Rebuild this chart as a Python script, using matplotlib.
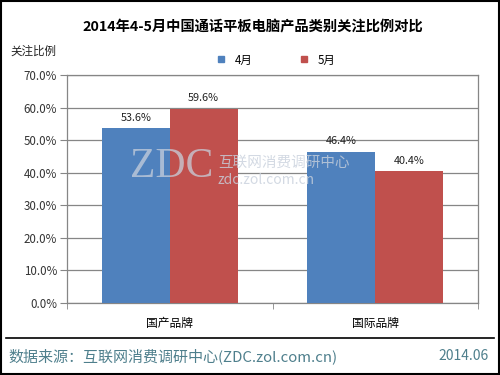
import matplotlib
matplotlib.use("Agg")
import matplotlib.pyplot as plt
import numpy as np
from matplotlib.lines import Line2D

plt.rcParams['font.family'] = ['Noto Sans CJK SC', 'DejaVu Sans']

# ── Data ──────────────────────────────────────────────────────────────────────
categories = ["国产品牌", "国际品牌"]
series_names = ["4月", "5月"]
april = [53.6, 46.4]
may = [59.6, 40.4]
yticks = [0, 10, 20, 30, 40, 50, 60, 70]

BLUE = "#4F81BD"
RED = "#C0504D"
GRID = "#868686"
FOOT = "#4E7F8C"

fig = plt.figure(figsize=(5, 3.75), dpi=100)
fig.patch.set_facecolor("white")
ax = fig.add_axes([0.134, 0.192, 0.822, 0.608])

x = np.arange(len(categories))
w = 0.33
b1 = ax.bar(x - w / 2, april, width=w, color=BLUE, label=series_names[0], zorder=3)
b2 = ax.bar(x + w / 2, may, width=w, color=RED, label=series_names[1], zorder=3)

for bars, vals in ((b1, april), (b2, may)):
    for bar, v in zip(bars, vals):
        ax.annotate(f"{v:.1f}%", (bar.get_x() + bar.get_width() / 2, v),
                    xytext=(0, 4), textcoords="offset points",
                    ha="center", va="bottom", fontsize=7.8, color="#222")

ax.set_xlim(-0.5, 1.5)
ax.set_ylim(0, 70)
ax.set_yticks(yticks)
ax.set_yticklabels([f"{t:.1f}%" for t in yticks], fontsize=8.3, color="#333")
ax.set_xticks(x)
ax.set_xticklabels(categories, fontsize=8.5)
ax.tick_params(axis="x", length=0, pad=10)
ax.set_xticks([-0.5, 0.5, 1.5], minor=True)
ax.tick_params(axis="x", which="minor", length=4, color=GRID, direction="out")
ax.tick_params(axis="y", length=5, color=GRID, direction="out", pad=2)
ax.grid(axis="y", color=GRID, linewidth=0.9, zorder=0)
for s in ax.spines.values():
    s.set_color(GRID)
    s.set_linewidth(0.9)

# watermark
fig.text(0.26, 0.555, "ZDC", fontsize=30, family="Liberation Serif",
         color="#c8d0dc", alpha=0.75, ha="left", va="center", zorder=5)
fig.text(0.436, 0.566, "互联网消费调研中心", fontsize=10.5,
         color="#c8d0dc", alpha=0.8, ha="left", va="center", zorder=5)
fig.text(0.436, 0.52, "zdc.zol.com.cn", fontsize=10,
         color="#c8d0dc", alpha=0.8, ha="left", va="center", zorder=5)

# title and labels
fig.text(0.505, 0.928, "2014年4-5月中国通话平板电脑产品类别关注比例对比",
         fontsize=10.3, fontweight="bold", ha="center", va="center")
fig.text(0.066, 0.862, "关注比例", fontsize=8.3, ha="center", va="center", color="#222")

handles = [Line2D([], [], marker="s", color=c, linestyle="none", markersize=5)
           for c in (BLUE, RED)]
fig.legend(handles, series_names, loc="center", bbox_to_anchor=(0.545, 0.84),
           ncol=2, frameon=False, fontsize=8.3, handletextpad=0.2, columnspacing=3.5)

# footer
fig.add_artist(Line2D([0.012, 0.988], [0.099, 0.099], color="black", linewidth=1.2))
fig.text(0.016, 0.05, "数据来源：互联网消费调研中心(ZDC.zol.com.cn)", fontsize=10.8,
         color=FOOT, ha="left", va="center")
fig.text(0.978, 0.05, "2014.06", fontsize=10, color=FOOT, ha="right", va="center")

# outer frame
fig.add_artist(plt.Rectangle((0.002, 0.003), 0.996, 0.994, transform=fig.transFigure,
                             fill=False, edgecolor="black", linewidth=1.5))

fig.savefig("out.png", dpi=100)
